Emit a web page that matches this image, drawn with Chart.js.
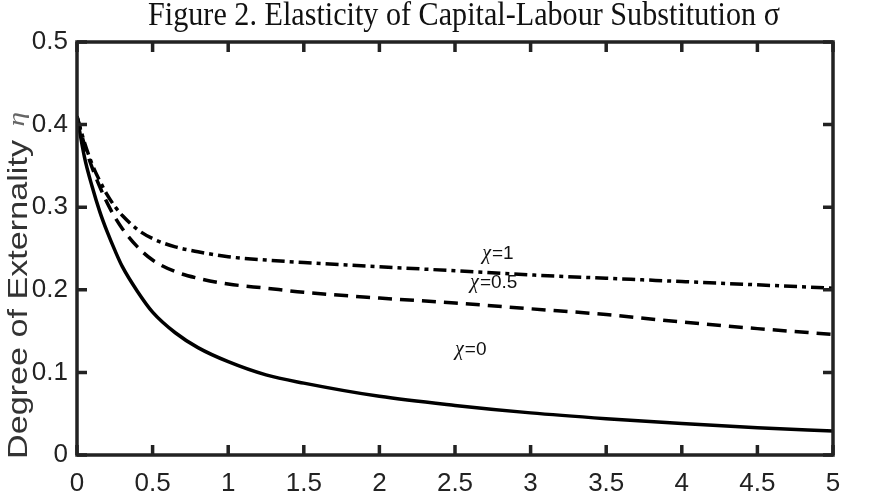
<!DOCTYPE html>
<html>
<head>
<meta charset="utf-8">
<script src="https://cdn.jsdelivr.net/npm/chart.js@4"></script>
<style>
html,body{margin:0;padding:0;background:#fff;}
canvas{display:block;}
</style>
</head>
<body>
<canvas id="c" width="876" height="500"></canvas>
<script>
// ---- data ----
const sigma = [0, 0.05, 0.1, 0.15, 0.2, 0.25, 0.3, 0.4, 0.5, 0.65, 0.8, 1, 1.25, 1.5, 2, 2.5, 3, 3.5, 4, 4.5, 5];
const etaChi0  = [0.41, 0.36, 0.325, 0.295, 0.27, 0.248, 0.228, 0.198, 0.173, 0.148, 0.13, 0.113, 0.097, 0.087, 0.071, 0.06, 0.051, 0.044, 0.038, 0.033, 0.029];
const etaChi05 = [0.41, 0.375, 0.348, 0.325, 0.305, 0.288, 0.274, 0.252, 0.236, 0.222, 0.214, 0.207, 0.202, 0.197, 0.19, 0.184, 0.177, 0.17, 0.161, 0.153, 0.146];
const etaChi1  = [0.41, 0.378, 0.352, 0.332, 0.315, 0.301, 0.29, 0.273, 0.262, 0.252, 0.246, 0.24, 0.236, 0.233, 0.228, 0.223, 0.218, 0.214, 0.21, 0.206, 0.202];
const seriesNames = ['χ=0', 'χ=0.5', 'χ=1'];
const xTickLabels = ['0','0.5','1','1.5','2','2.5','3','3.5','4','4.5','5'];
const yTickLabels = ['0','0.1','0.2','0.3','0.4','0.5'];
const labelSigma = [2.5, 2.6, 2.68];
const labelEta   = [0.127, 0.209, 0.244];
const titleText = 'Figure 2. Elasticity of Capital-Labour Substitution σ';
const yTitleText = 'Degree of Externality';
const yTitleSymbol = 'η';

const toXY = ys => sigma.map((s, i) => ({x: s, y: ys[i]}));

const frameColor = '#222';
const boxPlugin = {
  id: 'box',
  afterDatasetsDraw(chart) {
    const {ctx, chartArea: a, scales: {x, y}} = chart;
    ctx.save();
    ctx.strokeStyle = frameColor;
    ctx.lineWidth = 3.5;
    ctx.lineCap = 'butt';
    ctx.strokeRect(a.left, a.top, a.right - a.left, a.bottom - a.top);
    const tl = 10;
    ctx.beginPath();
    x.ticks.forEach(t => {
      const px = x.getPixelForValue(t.value);
      ctx.moveTo(px, a.bottom); ctx.lineTo(px, a.bottom - tl);
      ctx.moveTo(px, a.top); ctx.lineTo(px, a.top + tl);
    });
    y.ticks.forEach(t => {
      const py = y.getPixelForValue(t.value);
      ctx.moveTo(a.left, py); ctx.lineTo(a.left + tl, py);
      ctx.moveTo(a.right, py); ctx.lineTo(a.right - tl, py);
    });
    ctx.stroke();

    // curve labels
    ctx.textBaseline = 'middle';
    ctx.fillStyle = '#111';
    seriesNames.forEach((name, i) => {
      let px = x.getPixelForValue(labelSigma[i]);
      const py = y.getPixelForValue(labelEta[i]);
      ctx.font = 'italic 20px "Liberation Serif"';
      ctx.fillText(name[0], px, py);
      px += ctx.measureText(name[0]).width + 1;
      ctx.font = '19px "Liberation Sans"';
      ctx.fillText(name.slice(1), px, py);
    });

    // title
    ctx.save();
    ctx.fillStyle = '#111';
    let fs = 24;
    ctx.font = fs + 'px "Liberation Serif"';
    const w = ctx.measureText(titleText).width;
    fs = fs * 632 / w;
    ctx.font = fs.toFixed(2) + 'px "Liberation Serif"';
    ctx.textAlign = 'center';
    ctx.translate(464, 16);
    ctx.scale(1, 1.15);
    ctx.fillText(titleText, 0, 0);
    ctx.restore();

    // y axis title
    ctx.save();
    ctx.translate(19, 459);
    ctx.rotate(-Math.PI / 2);
    ctx.scale(1.22, 1);
    ctx.textAlign = 'left';
    ctx.fillStyle = '#333';
    ctx.font = '28px "Liberation Sans"';
    ctx.fillText(yTitleText, 0, 0);
    const tw = ctx.measureText(yTitleText).width;
    ctx.fillStyle = '#666';
    ctx.font = 'italic 24px "Liberation Serif"';
    ctx.fillText(yTitleSymbol, tw + 11, -1);
    ctx.restore();
    ctx.restore();
  }
};

const common = {pointRadius: 0, borderColor: '#000', borderWidth: 3.5, fill: false, cubicInterpolationMode: 'monotone'};

new Chart(document.getElementById('c'), {
  type: 'line',
  data: {
    datasets: [
      Object.assign({label: seriesNames[0], data: toXY(etaChi0)}, common),
      Object.assign({label: seriesNames[1], data: toXY(etaChi05), borderDash: [14, 8]}, common),
      Object.assign({label: seriesNames[2], data: toXY(etaChi1), borderDash: [13, 5, 4, 5]}, common)
    ]
  },
  options: {
    responsive: false,
    animation: false,
    devicePixelRatio: 1,
    layout: {padding: {top: 42, right: 43, bottom: 0, left: 0}},
    plugins: {legend: {display: false}, title: {display: false}, tooltip: {enabled: false}},
    scales: {
      x: {
        type: 'linear', min: 0, max: 5,
        grid: {display: false, drawTicks: false},
        border: {display: false},
        afterFit: s => { s.height = 45; },
        ticks: {
          stepSize: 0.5, padding: 13, color: '#222',
          font: {family: 'Liberation Sans', size: 26},
          maxRotation: 0, autoSkip: false,
          callback: (v, i) => xTickLabels[i]
        }
      },
      y: {
        type: 'linear', min: 0, max: 0.5,
        grid: {display: false, drawTicks: false},
        border: {display: false},
        afterFit: s => { s.width = 77; },
        ticks: {
          stepSize: 0.1, padding: 9, color: '#222',
          font: {family: 'Liberation Sans', size: 26},
          callback: (v, i) => yTickLabels[i]
        }
      }
    }
  },
  plugins: [boxPlugin]
});
</script>
</body>
</html>
